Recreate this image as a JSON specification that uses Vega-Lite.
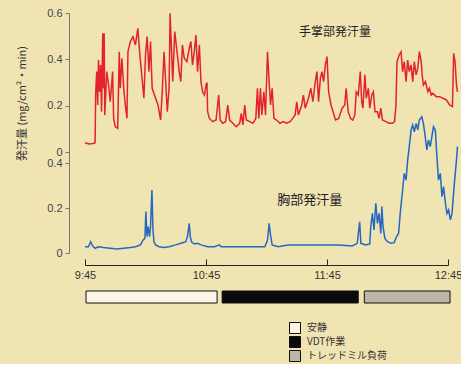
{
  "$schema": "https://vega.github.io/schema/vega-lite/v6.json",
  "background": "#f0e4b2",
  "padding": {"left": 16, "top": 7, "right": 0, "bottom": 0},
  "config": {
    "view": {"stroke": null},
    "font": "Liberation Sans",
    "axis": {"grid": false, "labelFont": "Liberation Sans", "labelFontSize": 11, "labelColor": "#444", "domainColor": "#777", "tickColor": "#777", "labelFlush": false}
  },
  "datasets": {
    "palm": [
      {"t":0,"v":0.04},{"t":2,"v":0.035},{"t":4,"v":0.037},{"t":5,"v":0.04},{"t":5.3,"v":0.253},{"t":5.8,"v":0.347},{"t":6.3,"v":0.203},{"t":6.7,"v":0.397},{"t":7.2,"v":0.26},{"t":7.7,"v":0.376},{"t":8.2,"v":0.174},{"t":8.8,"v":0.513},{"t":9.2,"v":0.275},{"t":9.5,"v":0.513},{"t":9.8,"v":0.16},{"t":10.8,"v":0.347},{"t":11.7,"v":0.289},{"t":12.5,"v":0.217},{"t":13.7,"v":0.347},{"t":14.2,"v":0.145},{"t":15,"v":0.109},{"t":16.2,"v":0.102},{"t":17,"v":0.433},{"t":17.5,"v":0.275},{"t":18.3,"v":0.405},{"t":19.2,"v":0.275},{"t":20,"v":0.203},{"t":20.8,"v":0.145},{"t":21.3,"v":0.433},{"t":22.5,"v":0.477},{"t":23.8,"v":0.498},{"t":25,"v":0.462},{"t":26.2,"v":0.534},{"t":27.2,"v":0.419},{"t":28.3,"v":0.318},{"t":29.2,"v":0.232},{"t":30,"v":0.419},{"t":30.8,"v":0.498},{"t":31.7,"v":0.347},{"t":32.5,"v":0.477},{"t":33.3,"v":0.275},{"t":35,"v":0.232},{"t":36.2,"v":0.203},{"t":37.5,"v":0.138},{"t":38.3,"v":0.26},{"t":39.2,"v":0.433},{"t":40,"v":0.304},{"t":40.8,"v":0.174},{"t":41.7,"v":0.275},{"t":42.2,"v":0.599},{"t":42.8,"v":0.462},{"t":43.5,"v":0.304},{"t":44.5,"v":0.52},{"t":45.8,"v":0.419},{"t":46.7,"v":0.347},{"t":47.5,"v":0.304},{"t":48.3,"v":0.462},{"t":49.2,"v":0.405},{"t":50.5,"v":0.39},{"t":51.7,"v":0.448},{"t":52.5,"v":0.477},{"t":53.3,"v":0.376},{"t":54.2,"v":0.433},{"t":55,"v":0.505},{"t":55.8,"v":0.347},{"t":56.7,"v":0.462},{"t":57.5,"v":0.304},{"t":58.3,"v":0.26},{"t":59.2,"v":0.246},{"t":60,"v":0.289},{"t":60.5,"v":0.3},{"t":60.8,"v":0.174},{"t":61.7,"v":0.145},{"t":63.3,"v":0.131},{"t":65,"v":0.138},{"t":66.3,"v":0.246},{"t":67,"v":0.138},{"t":68.3,"v":0.124},{"t":69.7,"v":0.131},{"t":70.8,"v":0.203},{"t":71.7,"v":0.138},{"t":73.3,"v":0.124},{"t":75,"v":0.109},{"t":76.7,"v":0.124},{"t":77.5,"v":0.167},{"t":78.3,"v":0.117},{"t":79.2,"v":0.203},{"t":80,"v":0.138},{"t":81.7,"v":0.131},{"t":83.3,"v":0.124},{"t":84.7,"v":0.145},{"t":85.5,"v":0.275},{"t":86.2,"v":0.145},{"t":87,"v":0.275},{"t":87.7,"v":0.16},{"t":88.7,"v":0.26},{"t":89.5,"v":0.16},{"t":90.5,"v":0.433},{"t":91.3,"v":0.304},{"t":92,"v":0.203},{"t":92.8,"v":0.275},{"t":93.7,"v":0.145},{"t":95,"v":0.138},{"t":96.7,"v":0.124},{"t":98.3,"v":0.131},{"t":100,"v":0.124},{"t":101.7,"v":0.131},{"t":103,"v":0.145},{"t":104.2,"v":0.16},{"t":105,"v":0.217},{"t":105.8,"v":0.16},{"t":107.5,"v":0.203},{"t":108.3,"v":0.246},{"t":109.2,"v":0.189},{"t":110.8,"v":0.232},{"t":112,"v":0.275},{"t":113,"v":0.217},{"t":114.2,"v":0.304},{"t":115,"v":0.347},{"t":115.8,"v":0.217},{"t":116.7,"v":0.318},{"t":117.5,"v":0.347},{"t":118.3,"v":0.304},{"t":119.2,"v":0.376},{"t":120,"v":0.412},{"t":120.8,"v":0.26},{"t":122,"v":0.203},{"t":123,"v":0.174},{"t":124.2,"v":0.138},{"t":125.8,"v":0.145},{"t":127.5,"v":0.189},{"t":128.8,"v":0.203},{"t":129.5,"v":0.275},{"t":130.5,"v":0.174},{"t":131.7,"v":0.145},{"t":132.8,"v":0.138},{"t":133.8,"v":0.16},{"t":134.5,"v":0.26},{"t":135.5,"v":0.246},{"t":136.5,"v":0.347},{"t":137.2,"v":0.217},{"t":137.8,"v":0.189},{"t":138.8,"v":0.333},{"t":139.5,"v":0.232},{"t":140.5,"v":0.275},{"t":141.2,"v":0.189},{"t":142.2,"v":0.246},{"t":143,"v":0.26},{"t":143.8,"v":0.174},{"t":145,"v":0.174},{"t":145.8,"v":0.145},{"t":146.7,"v":0.189},{"t":147.5,"v":0.138},{"t":149.2,"v":0.131},{"t":150.8,"v":0.124},{"t":152.5,"v":0.124},{"t":153.5,"v":0.131},{"t":154.2,"v":0.203},{"t":154.7,"v":0.39},{"t":155.8,"v":0.419},{"t":156.7,"v":0.433},{"t":157.5,"v":0.347},{"t":158.3,"v":0.39},{"t":159.2,"v":0.304},{"t":160,"v":0.397},{"t":160.8,"v":0.347},{"t":161.7,"v":0.376},{"t":162.5,"v":0.304},{"t":163.3,"v":0.39},{"t":164.2,"v":0.333},{"t":165,"v":0.361},{"t":165.8,"v":0.433},{"t":166.7,"v":0.39},{"t":167.2,"v":0.333},{"t":167.8,"v":0.289},{"t":168.8,"v":0.304},{"t":170,"v":0.26},{"t":170.8,"v":0.275},{"t":171.7,"v":0.246},{"t":172.5,"v":0.253},{"t":174.2,"v":0.239},{"t":175.8,"v":0.239},{"t":177.5,"v":0.232},{"t":179.2,"v":0.225},{"t":180.8,"v":0.203},{"t":182.2,"v":0.196},{"t":182.8,"v":0.426},{"t":183.5,"v":0.39},{"t":184.2,"v":0.289},{"t":184.7,"v":0.26}
    ],
    "chest": [
      {"t":0,"v":0.028},{"t":1.7,"v":0.028},{"t":2.8,"v":0.05},{"t":3.5,"v":0.036},{"t":4.2,"v":0.028},{"t":5,"v":0.021},{"t":6.7,"v":0.028},{"t":9.2,"v":0.024},{"t":12.5,"v":0.021},{"t":15.8,"v":0.018},{"t":19.2,"v":0.021},{"t":22.5,"v":0.024},{"t":25,"v":0.028},{"t":27.5,"v":0.036},{"t":28.8,"v":0.058},{"t":29.7,"v":0.065},{"t":30.2,"v":0.184},{"t":30.7,"v":0.073},{"t":31.3,"v":0.117},{"t":32,"v":0.073},{"t":32.5,"v":0.117},{"t":33.2,"v":0.28},{"t":33.7,"v":0.102},{"t":34.2,"v":0.05},{"t":35,"v":0.036},{"t":36.7,"v":0.028},{"t":39.2,"v":0.025},{"t":41.7,"v":0.028},{"t":45,"v":0.036},{"t":47.5,"v":0.043},{"t":50,"v":0.05},{"t":50.8,"v":0.073},{"t":51.7,"v":0.132},{"t":52.2,"v":0.073},{"t":52.8,"v":0.05},{"t":54.2,"v":0.04},{"t":55.8,"v":0.043},{"t":57.5,"v":0.036},{"t":60.8,"v":0.028},{"t":64.2,"v":0.028},{"t":66.7,"v":0.036},{"t":67.5,"v":0.028},{"t":72.5,"v":0.028},{"t":80.8,"v":0.028},{"t":89.2,"v":0.028},{"t":90.5,"v":0.058},{"t":91.3,"v":0.132},{"t":92,"v":0.08},{"t":92.8,"v":0.036},{"t":95.8,"v":0.028},{"t":100.8,"v":0.036},{"t":109.2,"v":0.036},{"t":117.5,"v":0.036},{"t":125.8,"v":0.036},{"t":132.5,"v":0.031},{"t":135,"v":0.043},{"t":136.2,"v":0.139},{"t":136.8,"v":0.043},{"t":139.2,"v":0.036},{"t":141.2,"v":0.04},{"t":141.7,"v":0.117},{"t":142.5,"v":0.176},{"t":143.3,"v":0.102},{"t":144.2,"v":0.221},{"t":145,"v":0.132},{"t":145.8,"v":0.176},{"t":146.7,"v":0.087},{"t":147.2,"v":0.206},{"t":147.8,"v":0.117},{"t":148.7,"v":0.065},{"t":150,"v":0.05},{"t":151.7,"v":0.043},{"t":153.3,"v":0.046},{"t":154.5,"v":0.073},{"t":155.5,"v":0.087},{"t":156.3,"v":0.176},{"t":157.5,"v":0.28},{"t":158.3,"v":0.354},{"t":159.2,"v":0.324},{"t":160,"v":0.413},{"t":160.8,"v":0.473},{"t":161.7,"v":0.547},{"t":162.5,"v":0.569},{"t":163.3,"v":0.539},{"t":164.2,"v":0.576},{"t":165,"v":0.547},{"t":165.8,"v":0.591},{"t":167,"v":0.606},{"t":167.8,"v":0.576},{"t":168.7,"v":0.517},{"t":169.5,"v":0.458},{"t":170.3,"v":0.502},{"t":171.2,"v":0.473},{"t":172,"v":0.517},{"t":172.8,"v":0.561},{"t":173.7,"v":0.547},{"t":174.5,"v":0.428},{"t":175.3,"v":0.324},{"t":176.2,"v":0.354},{"t":177,"v":0.25},{"t":177.8,"v":0.295},{"t":178.7,"v":0.221},{"t":179.5,"v":0.176},{"t":180.3,"v":0.191},{"t":181.2,"v":0.147},{"t":182,"v":0.176},{"t":182.5,"v":0.236},{"t":183.3,"v":0.324},{"t":184.2,"v":0.413},{"t":184.7,"v":0.473}
    ],
    "phases": [
      {"phase":"安静","start":0.5,"end":65.5},
      {"phase":"VDT作業","start":68,"end":135.5},
      {"phase":"トレッドミル負荷","start":138.5,"end":181}
    ]
  },
  "vconcat": [
    {
      "vconcat": [
        {
          "width": 363,
          "height": 150,
          "layer": [
            {
              "data": {"name": "palm"},
              "mark": {"type": "line", "color": "#e3222b", "strokeWidth": 1.5, "clip": false},
              "encoding": {
                "x": {"field": "t", "type": "quantitative", "scale": {"domain": [0, 180], "nice": false}, "axis": null},
                "y": {"field": "v", "type": "quantitative", "scale": {"domain": [-0.0474, 0.6], "nice": false, "zero": false},
                  "axis": {"values": [0, 0.2, 0.4, 0.6], "format": ".1~f", "offset": 16, "tickSize": 4, "labelPadding": 3,
                    "title": "発汗量 (mg/cm²・min)", "titleFont": "Noto Sans CJK JP", "titleFontSize": 11, "titleFontWeight": "normal", "titleColor": "#333",
                    "titleX": -47, "titleY": 90, "titleAngle": 270, "titleAlign": "center", "titleBaseline": "middle"}}
              }
            },
            {
              "data": {"values": [{"t": 124, "v": 0.518, "label": "手掌部発汗量"}]},
              "mark": {"type": "text", "font": "Noto Sans CJK JP", "fontSize": 12, "color": "#222"},
              "encoding": {
                "x": {"field": "t", "type": "quantitative"},
                "y": {"field": "v", "type": "quantitative"},
                "text": {"field": "label"}
              }
            }
          ]
        },
        {
          "width": 363,
          "height": 90,
          "layer": [
            {
              "data": {"name": "chest"},
              "mark": {"type": "line", "color": "#2468c4", "strokeWidth": 1.5, "clip": false},
              "encoding": {
                "x": {"field": "t", "type": "quantitative", "scale": {"domain": [0, 180], "nice": false},
                  "axis": {"values": [0, 60, 120, 180], "labelExpr": "timeFormat(datetime(2000,0,1,9,45+datum.value,0),'%-H:%M')",
                    "offset": 12, "tickSize": -6, "labelPadding": 10, "domainColor": "#222", "tickColor": "#222", "labelColor": "#333", "title": null}},
                "y": {"field": "v", "type": "quantitative", "scale": {"domain": [0, 0.4], "nice": false},
                  "axis": {"values": [0, 0.2, 0.4], "format": ".1~f", "offset": 16, "tickSize": 4, "labelPadding": 3, "title": null}}
              }
            },
            {
              "data": {"values": [{"t": 111.5, "v": 0.236, "label": "胸部発汗量"}]},
              "mark": {"type": "text", "font": "Noto Sans CJK JP", "fontSize": 13, "color": "#222"},
              "encoding": {
                "x": {"field": "t", "type": "quantitative"},
                "y": {"field": "v", "type": "quantitative"},
                "text": {"field": "label"}
              }
            }
          ]
        }
      ],
      "spacing": 0,
      "bounds": "flush",
      "resolve": {"scale": {"y": "independent"}}
    },
    {
      "width": 363,
      "height": 12,
      "data": {"name": "phases"},
      "mark": {"type": "rect", "stroke": "#111", "strokeWidth": 1},
      "encoding": {
        "x": {"field": "start", "type": "quantitative", "scale": {"domain": [0, 180], "nice": false}, "axis": null},
        "x2": {"field": "end"},
        "color": {"field": "phase", "type": "nominal",
          "scale": {"domain": ["安静", "VDT作業", "トレッドミル負荷"], "range": ["#fbf6e4", "#0a0a0a", "#bbb6a8"]},
          "legend": {"orient": "none", "legendX": 204, "legendY": 309, "title": null, "padding": 0,
            "symbolType": "square", "symbolSize": 121, "symbolStrokeColor": "#111", "symbolStrokeWidth": 1, "symbolOpacity": 1,
            "labelFont": "Noto Sans CJK JP", "labelFontSize": 10, "labelColor": "#333", "labelOffset": 6, "rowPadding": -4}}
      }
    }
  ],
  "spacing": 10,
  "bounds": "full"
}
